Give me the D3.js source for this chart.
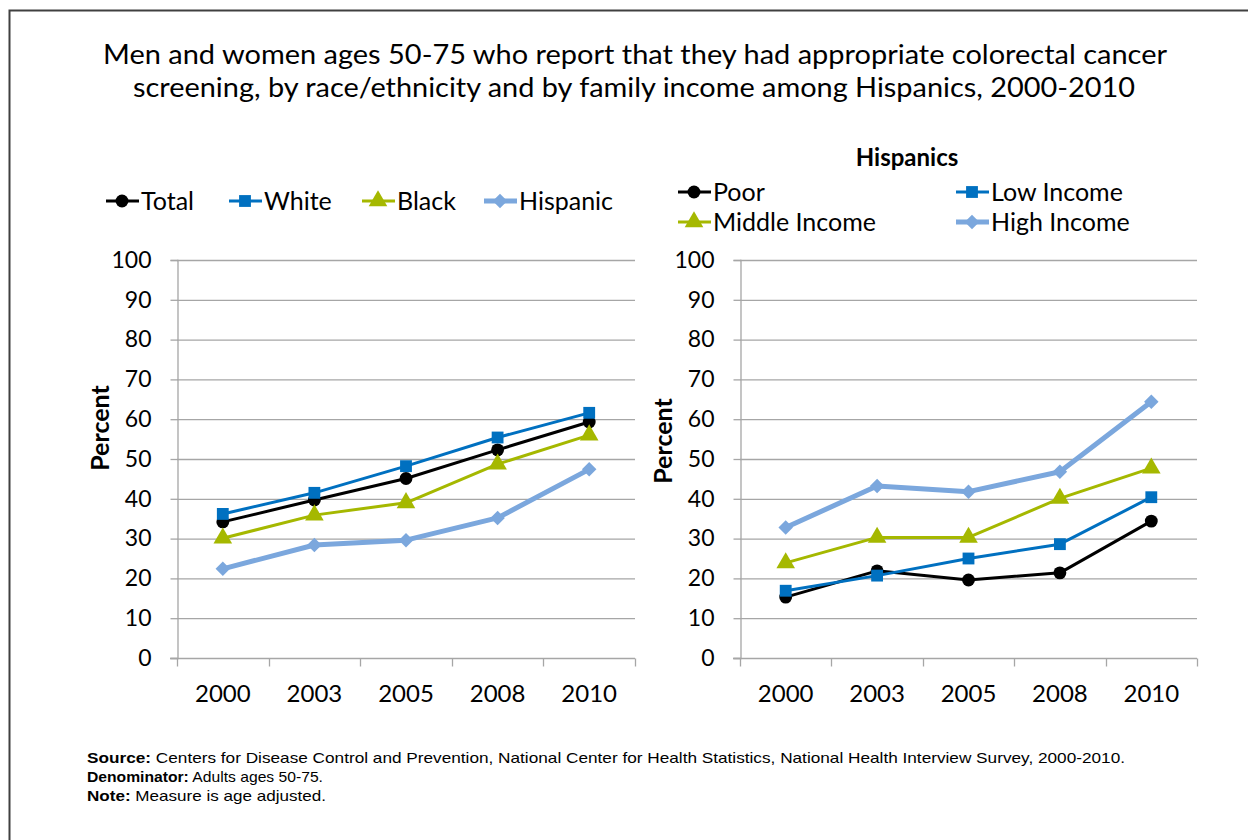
<!DOCTYPE html>
<html><head><meta charset="utf-8">
<script src="https://cdn.jsdelivr.net/npm/d3@7"></script>
<style>
body{margin:0;background:#fff;}
svg{display:block;}
text{font-family:Lato,"Open Sans",sans-serif;fill:#000;}
.foot{font-family:"Liberation Sans",Arial,sans-serif;}
</style></head>
<body>
<svg id="c" width="1248" height="840"></svg>
<script>
const years = ["2000","2003","2005","2008","2010"];
const yTicks = [0,10,20,30,40,50,60,70,80,90,100];

const leftNames = ["Total","White","Black","Hispanic"];
const total    = [34.2, 39.7, 45.1, 52.3, 59.3];
const white    = [36.2, 41.5, 48.2, 55.4, 61.6];
const black    = [30.1, 35.9, 39.0, 48.7, 56.0];
const hispanic = [22.4, 28.4, 29.6, 35.2, 47.4];

const rightTitle = "Hispanics";
const rightNames = ["Poor","Low Income","Middle Income","High Income"];
const poor   = [15.3, 21.9, 19.6, 21.4, 34.4];
const low    = [16.9, 20.7, 25.0, 28.6, 40.4];
const middle = [23.9, 30.3, 30.3, 40.1, 47.7];
const high   = [32.8, 43.2, 41.8, 46.8, 64.4];

const titleLines = ["Men and women ages 50-75 who report that they had appropriate colorectal cancer",
                    "screening, by race/ethnicity and by family income among Hispanics, 2000-2010"];
const footer = [["Source:"," Centers for Disease Control and Prevention, National Center for Health Statistics, National Health Interview Survey, 2000-2010."],
                ["Denominator:"," Adults ages 50-75."],
                ["Note:"," Measure is age adjusted."]];

const styles = [
  {color:"#000000", shape:"circle", w:3},
  {color:"#0070C0", shape:"square", w:3},
  {color:"#A5B800", shape:"triangle", w:3},
  {color:"#7BA7DD", shape:"diamond", w:5}
];

const svg = d3.select("#c");
svg.append("path").attr("d","M9.5,840 V10.5 H1248").attr("fill","none").attr("stroke","#404040").attr("stroke-width",2);

const titleW = [1064, 1002];
svg.selectAll(".title").data(titleLines).enter().append("text")
  .attr("x",(d,i)=>[103,133][i]).attr("y",(d,i)=>64+i*33)
  .attr("font-size",27).attr("textLength",(d,i)=>titleW[i]).attr("lengthAdjust","spacingAndGlyphs").text(d=>d);

function symbolPath(shape, size){
  const t = {circle:d3.symbolCircle, square:d3.symbolSquare, triangle:d3.symbolTriangle, diamond:d3.symbolSquare}[shape];
  return d3.symbol().type(t).size(size)();
}
const symSize = {circle:130, square:140, triangle:150, diamond:105};
const symRot = {circle:0, square:0, triangle:0, diamond:45};

function panel(x0, x1, series, pctY){
  const x = d3.scaleBand().domain(years).range([x0,x1]);
  const y = d3.scaleLinear().domain([0,100]).range([658,260]);
  const g = svg.append("g");
  g.selectAll(".grid").data(yTicks.slice(1)).enter().append("line")
    .attr("x1",x0).attr("x2",x1).attr("y1",d=>y(d)+0.5).attr("y2",d=>y(d)+0.5)
    .attr("stroke","#A6A6A6").attr("stroke-width",1.3);
  const ya = g.append("g").attr("transform",`translate(${x0+0.5},0)`)
    .call(d3.axisLeft(y).tickValues(yTicks).tickSize(7).tickPadding(19));
  ya.select(".domain").attr("stroke","#A6A6A6").attr("stroke-width",1.3);
  ya.selectAll(".tick line").attr("stroke","#A6A6A6").attr("stroke-width",1.3);
  ya.selectAll(".tick text").attr("font-size",23).attr("font-family","Lato").attr("fill","#000");
  const xa = g.append("g").attr("transform",`translate(0,${y(0)+0.5})`)
    .call(d3.axisBottom(x).tickSize(0).tickPadding(26));
  xa.select(".domain").remove();
  xa.append("line").attr("x1",x0-7).attr("x2",x1).attr("stroke","#A6A6A6").attr("stroke-width",1.3);
  const bounds = years.map(d=>x(d)).concat([x1]);
  xa.selectAll(".bt").data(bounds).enter().append("line")
    .attr("x1",d=>Math.round(d)+0.5).attr("x2",d=>Math.round(d)+0.5).attr("y1",0).attr("y2",8)
    .attr("stroke","#A6A6A6").attr("stroke-width",1.3);
  xa.selectAll(".tick text").attr("font-size",24).attr("font-family","Lato").attr("fill","#000");
  g.append("text").attr("transform",`translate(${x0-68},${pctY}) rotate(-90)`)
    .attr("text-anchor","middle").attr("font-size",25).attr("font-weight","bold").text("Percent");
  const line = d3.line().x((d,i)=>x(years[i])+x.bandwidth()/2).y(d=>y(d));
  series.forEach((s,k)=>{
    const st = styles[k];
    g.append("path").datum(s).attr("d",line).attr("fill","none")
      .attr("stroke",st.color).attr("stroke-width",st.w).attr("stroke-linejoin","round");
  });
  series.forEach((s,k)=>{
    const st = styles[k];
    g.selectAll(null).data(s).enter().append("path")
      .attr("d",symbolPath(st.shape, symSize[st.shape]))
      .attr("transform",(d,i)=>`translate(${x(years[i])+x.bandwidth()/2},${y(d)}) rotate(${symRot[st.shape]})`)
      .attr("fill",st.color);
  });
}
panel(177, 635, [total, white, black, hispanic], 428);
panel(740, 1197, [poor, low, middle, high], 441);

function legendItem(lx, ly, k, label){
  const st = styles[k];
  const g = svg.append("g");
  g.append("line").attr("x1",lx).attr("x2",lx+33).attr("y1",ly).attr("y2",ly)
    .attr("stroke",st.color).attr("stroke-width",st.w);
  g.append("path").attr("d",symbolPath(st.shape, symSize[st.shape]))
    .attr("transform",`translate(${lx+16},${ly}) rotate(${symRot[st.shape]})`).attr("fill",st.color);
  g.append("text").attr("x",lx+35).attr("y",ly+9).attr("font-size",25).text(label);
}
const leftLegX = [106, 229, 362, 484];
leftNames.forEach((n,k)=>legendItem(leftLegX[k], 201, k, n));

svg.append("text").attr("x",907).attr("y",166).attr("text-anchor","middle")
  .attr("font-size",24).attr("font-weight","bold").text(rightTitle);
const rightLegPos = [[678,192],[956,192],[678,222],[956,222]];
rightNames.forEach((n,k)=>legendItem(rightLegPos[k][0], rightLegPos[k][1], k, n));

const footW = [1038, 236, 239];
footer.forEach((f,i)=>{
  const t = svg.append("text").attr("class","foot").attr("x",87).attr("y",763+i*19).attr("font-size",15)
    .attr("textLength",footW[i]).attr("lengthAdjust","spacingAndGlyphs");
  t.append("tspan").attr("font-weight","bold").text(f[0]);
  t.append("tspan").text(f[1]);
});
</script>
</body></html>
